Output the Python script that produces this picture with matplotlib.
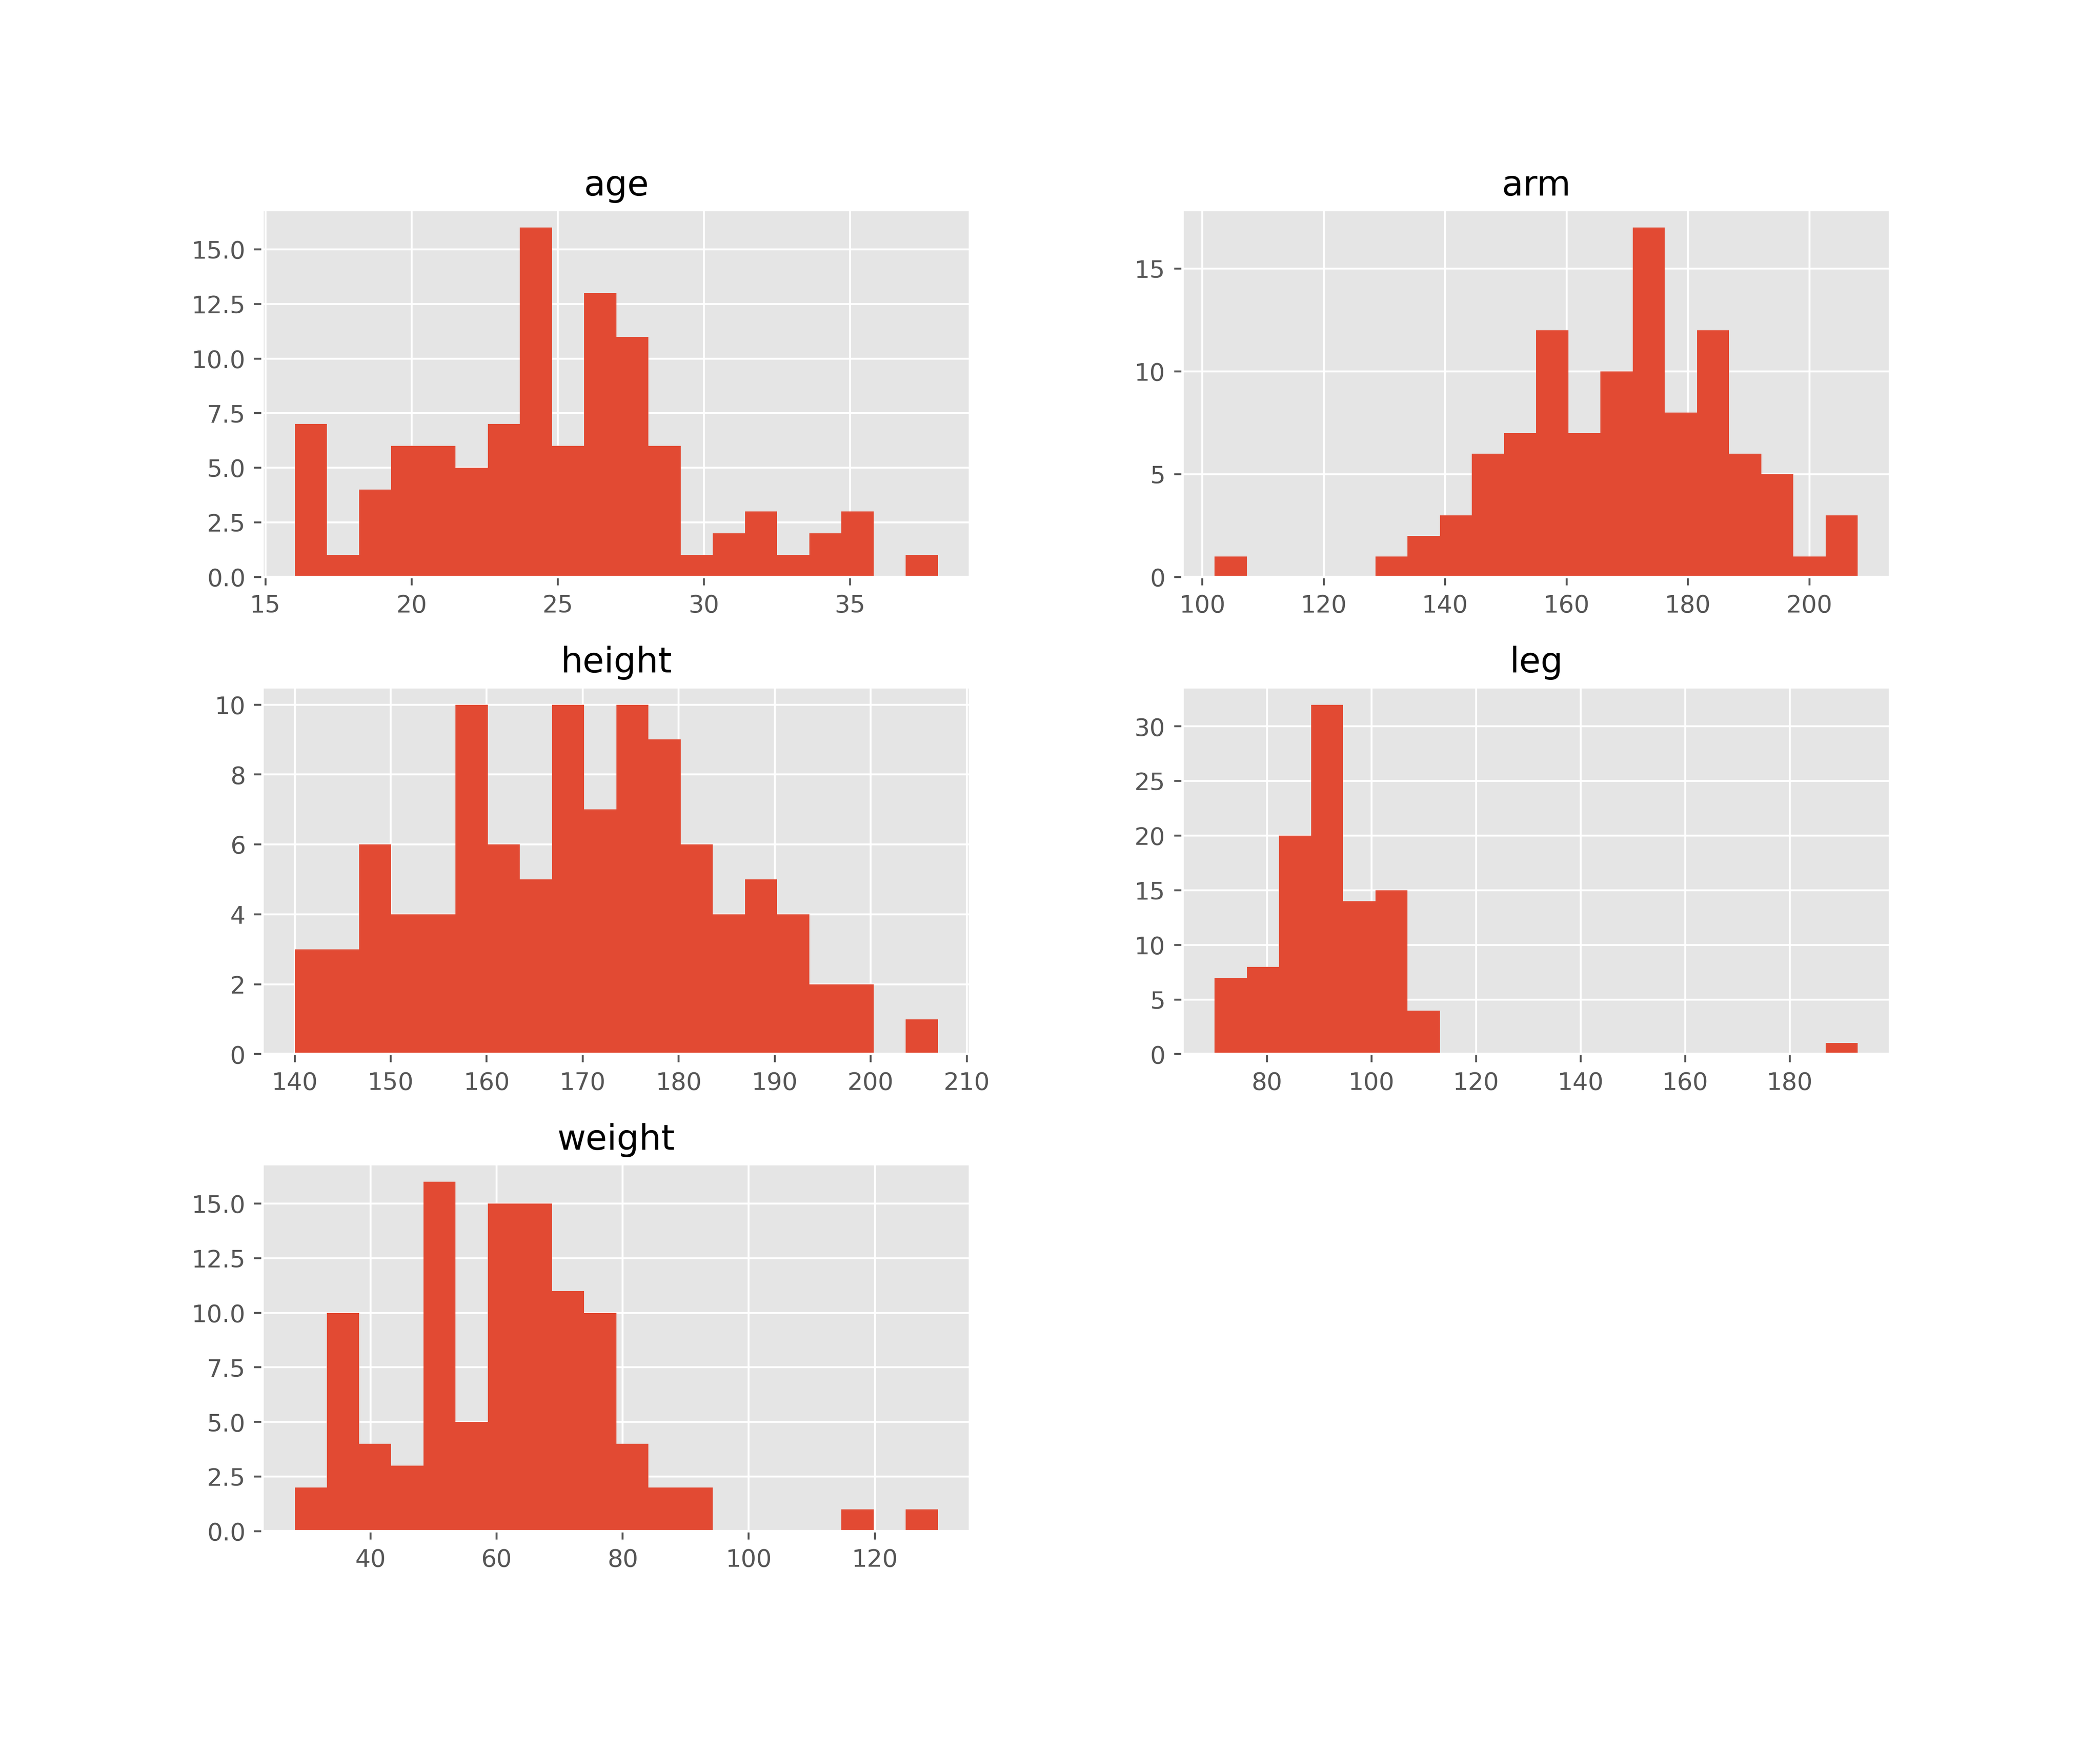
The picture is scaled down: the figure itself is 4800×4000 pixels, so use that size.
import numpy as np
import matplotlib
matplotlib.use("Agg")
import matplotlib.pyplot as plt

plt.style.use("ggplot")

# Histogram data (20 bins each, range min..max)
names = ["age", "arm", "height", "leg", "weight"]
ranges = {
    "age": (16, 38),
    "arm": (102, 208),
    "height": (140, 207),
    "leg": (70, 193),
    "weight": (28, 130),
}
age_counts = [7, 1, 4, 6, 6, 5, 7, 16, 6, 13, 11, 6, 1, 2, 3, 1, 2, 3, 0, 1]
arm_counts = [1, 0, 0, 0, 0, 1, 2, 3, 6, 7, 12, 7, 10, 17, 8, 12, 6, 5, 1, 3]
height_counts = [3, 3, 6, 4, 4, 10, 6, 5, 10, 7, 10, 9, 6, 4, 5, 4, 2, 2, 0, 1]
leg_counts = [7, 8, 20, 32, 14, 15, 4, 0, 0, 0, 0, 0, 0, 0, 0, 0, 0, 0, 0, 1]
weight_counts = [2, 10, 4, 3, 16, 5, 15, 15, 11, 10, 4, 2, 2, 0, 0, 0, 0, 1, 0, 1]
counts = {
    "age": age_counts,
    "arm": arm_counts,
    "height": height_counts,
    "leg": leg_counts,
    "weight": weight_counts,
}

fig, axes = plt.subplots(3, 2, figsize=(12, 10), dpi=400)
axes = axes.ravel()
for ax, name in zip(axes, names):
    lo, hi = ranges[name]
    c = np.array(counts[name], dtype=float)
    edges = np.linspace(lo, hi, len(c) + 1)
    centers = 0.5 * (edges[:-1] + edges[1:])
    ax.hist(centers, bins=edges, weights=c, color="#E24A33")
    ax.set_title(name)
    ax.grid(True)
axes[5].remove()
fig.subplots_adjust(left=0.125, right=0.9, top=0.88, bottom=0.125,
                    wspace=0.3, hspace=0.3)
fig.savefig("out.png", dpi=400)
